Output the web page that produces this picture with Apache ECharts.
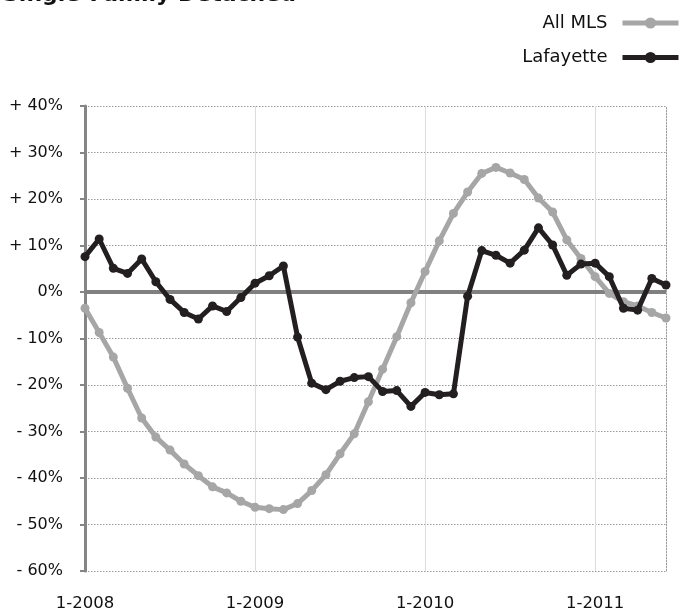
<!DOCTYPE html>
<html>
<head>
<meta charset="utf-8">
<script src="https://cdn.jsdelivr.net/npm/echarts@6/dist/echarts.min.js"></script>
<style>html,body{margin:0;padding:0;background:#fff}#c{width:680px;height:614px}</style>
</head>
<body>
<div id="c"></div>
<script>
var months = ['1-2008','2-2008','3-2008','4-2008','5-2008','6-2008','7-2008','8-2008','9-2008','10-2008','11-2008','12-2008',
  '1-2009','2-2009','3-2009','4-2009','5-2009','6-2009','7-2009','8-2009','9-2009','10-2009','11-2009','12-2009',
  '1-2010','2-2010','3-2010','4-2010','5-2010','6-2010','7-2010','8-2010','9-2010','10-2010','11-2010','12-2010',
  '1-2011','2-2011','3-2011','4-2011','5-2011','6-2011'];
var allMLS = [-3.5,-8.7,-14.0,-20.7,-27.1,-31.2,-34.0,-37.0,-39.5,-41.9,-43.2,-45.0,
  -46.3,-46.6,-46.8,-45.5,-42.7,-39.3,-34.8,-30.5,-23.6,-16.6,-9.6,-2.3,
  4.4,11.0,16.9,21.5,25.5,26.8,25.6,24.2,20.2,17.2,11.2,7.2,
  3.3,-0.3,-2.1,-3.0,-4.4,-5.6];
var lafayette = [7.6,11.4,5.1,4.0,7.1,2.2,-1.6,-4.4,-5.8,-3.0,-4.2,-1.2,
  1.9,3.5,5.6,-9.7,-19.6,-21.0,-19.2,-18.4,-18.2,-21.4,-21.2,-24.6,
  -21.6,-22.1,-21.9,-0.9,8.9,7.9,6.2,9.0,13.8,10.1,3.6,6.0,
  6.2,3.3,-3.5,-3.9,2.9,1.5];
var yTickValues = [-60,-50,-40,-30,-20,-10,0,10,20,30,40];
var yTickLabels = ['- 60%','- 50%','- 40%','- 30%','- 20%','- 10%','0%','+ 10%','+ 20%','+ 30%','+ 40%'];
var titleText = 'Single-Family Detached';
var seriesNames = ['All MLS','Lafayette'];

var FONT = 'DejaVu Sans';
var chart = echarts.init(document.getElementById('c'), null, {renderer:'canvas'});
chart.setOption({
  animation:false,
  backgroundColor:'#fff',
  title:{text:titleText,left:-2,top:-21,textStyle:{fontFamily:FONT,fontWeight:'bold',fontSize:22,color:'#111'}},
  legend:{
    orient:'vertical',right:-6,top:9,align:'right',
    itemWidth:56,itemHeight:14,itemGap:16.5,
    lineStyle:{width:5},
    textStyle:{fontFamily:FONT,fontSize:18,color:'#111',lineHeight:18,padding:[0,10,0,0]},
    data:seriesNames
  },
  grid:{left:85,right:14,top:106,bottom:43,containLabel:false},
  xAxis:{
    type:'category',data:months,boundaryGap:false,
    axisLine:{show:false},axisTick:{show:false},
    axisLabel:{interval:11,margin:24,fontFamily:FONT,fontSize:16.5,color:'#111'},
    splitLine:{show:true,interval:11,lineStyle:{color:'#dcdcdc',width:1,type:'solid'}}
  },
  yAxis:[{
    type:'value',min:-60,max:40,interval:10,
    axisLine:{show:true,lineStyle:{color:'#858585',width:3}},
    axisTick:{show:true,inside:false,length:5,lineStyle:{color:'#858585',width:2}},
    axisLabel:{margin:22,fontFamily:FONT,fontSize:16,color:'#111',
      formatter:function(v){var i=yTickValues.indexOf(v);return i>=0?yTickLabels[i]:'';}},
    splitLine:{show:true,lineStyle:{color:'#9a9a9a',width:1,type:[1.5,1.5]}}
  },{
    type:'value',min:-60,max:40,interval:10,position:'right',
    axisLine:{show:true,lineStyle:{color:'#9a9a9a',width:1,type:[1.5,1.5]}},
    axisTick:{show:false},axisLabel:{show:false},splitLine:{show:false}
  }],
  series:[
    {name:seriesNames[0],type:'line',data:allMLS,symbol:'circle',symbolSize:9,
     lineStyle:{color:'#a6a6a6',width:5},itemStyle:{color:'#a6a6a6'},z:3,
     markLine:{silent:true,symbol:'none',label:{show:false},
       lineStyle:{color:'#808080',width:4,type:'solid'},data:[{yAxis:0}],z:2}},
    {name:seriesNames[1],type:'line',data:lafayette,symbol:'circle',symbolSize:9,
     lineStyle:{color:'#231f20',width:5},itemStyle:{color:'#231f20'},z:4}
  ]
});
</script>
</body>
</html>
